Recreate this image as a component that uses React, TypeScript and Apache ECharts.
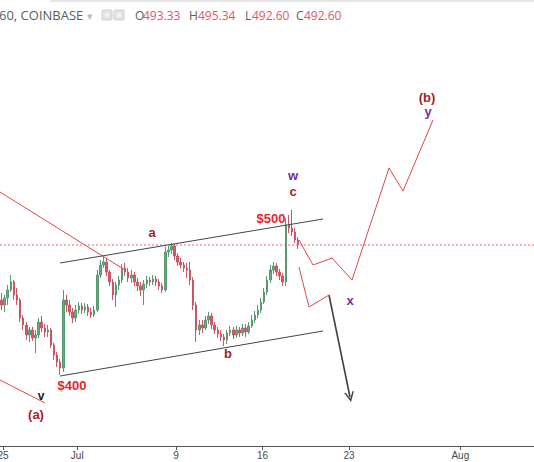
import React, { useEffect, useRef } from 'react';
import * as echarts from 'echarts';

// x axis in days counted from Jun 25 (00:00)
const tickDays = [0, 6, 14, 21, 28, 37];
const tickLabels = ['25', 'Jul', '9', '16', '23', 'Aug'];

// 6-hour candles, first one centred on Jun 24 21:00
const firstCandleDay = -0.125;
const candleStepDays = 0.25;

const opens = [
  465.1, 462.6, 466.1, 470.1, 474.1, 467.6, 465.1, 456.1, 452.6, 447.6,
  450.1, 446.1, 447.6, 454.1, 451.1, 449.1, 450.1, 442.6, 437.6, 434.1,
  431.1, 465.1, 462.6, 459.1, 456.1, 460.1, 462.1, 460.1, 461.6, 459.1,
  457.6, 460.1, 477.6, 482.6, 484.1, 479.1, 474.1, 467.6, 472.6, 475.1,
  481.1, 479.1, 476.1, 477.6, 474.1, 472.1, 470.1, 473.1, 475.1, 474.1,
  475.6, 474.1, 472.1, 470.1, 489.1, 490.1, 492.1, 487.1, 484.1, 482.6,
  481.1, 480.1, 475.1, 462.6, 450.1, 452.6, 451.1, 455.1, 457.1, 452.6,
  450.1, 448.1, 446.6, 445.1, 448.6, 450.1, 447.6, 450.1, 448.6, 451.1,
  449.1, 452.1, 455.1, 457.6, 460.1, 464.1, 469.1, 475.1, 480.1, 482.1,
  479.1, 477.1, 474.1, 502.6, 501.1, 499.1, 495.1,
];
const closes = [
  462.6, 466.1, 470.1, 474.1, 467.6, 465.1, 456.1, 452.6, 447.6, 450.1,
  446.1, 447.6, 454.1, 451.1, 449.1, 450.1, 442.6, 437.6, 434.1, 431.1,
  465.1, 462.6, 459.1, 456.1, 460.1, 462.1, 460.1, 461.6, 459.1, 457.6,
  460.1, 477.6, 482.6, 484.1, 479.1, 474.1, 467.6, 472.6, 475.1, 481.1,
  479.1, 476.1, 477.6, 474.1, 472.1, 470.1, 473.1, 475.1, 474.1, 475.6,
  474.1, 472.1, 470.1, 489.1, 490.1, 492.1, 487.1, 484.1, 482.6, 481.1,
  480.1, 475.1, 462.6, 450.1, 452.6, 451.1, 455.1, 457.1, 452.6, 450.1,
  448.1, 446.6, 445.1, 448.6, 450.1, 447.6, 450.1, 448.6, 451.1, 449.1,
  452.1, 455.1, 457.6, 460.1, 464.1, 469.1, 475.1, 480.1, 482.1, 479.1,
  477.1, 474.1, 502.6, 501.1, 499.1, 495.1, 492.6,
];
const lows = [
  460.1, 459.1, 462.6, 469.1, 465.1, 462.6, 454.1, 450.1, 445.1, 444.1,
  444.6, 438.6, 446.1, 449.1, 446.6, 446.6, 441.1, 435.1, 431.6, 427.6,
  429.1, 459.1, 457.1, 453.6, 454.1, 458.1, 458.1, 458.6, 457.1, 456.1,
  456.6, 459.1, 476.1, 481.1, 477.1, 472.1, 465.1, 461.6, 470.1, 473.6,
  477.1, 474.1, 473.6, 472.1, 469.6, 467.1, 462.6, 471.1, 472.1, 472.6,
  472.1, 470.1, 468.6, 469.1, 486.6, 488.1, 485.1, 482.1, 481.1, 479.1,
  476.1, 472.6, 460.1, 444.1, 447.6, 448.6, 450.1, 453.1, 450.6, 448.1,
  446.1, 444.6, 442.1, 443.1, 447.1, 445.6, 446.1, 446.6, 447.1, 446.6,
  448.1, 451.1, 453.6, 456.1, 458.6, 463.1, 467.6, 473.6, 478.1, 477.1,
  475.1, 472.1, 472.1, 498.6, 497.1, 493.6, 490.6,
];
const highs = [
  468.6, 467.6, 472.6, 477.6, 475.1, 471.1, 466.1, 457.6, 454.1, 451.6,
  451.6, 450.1, 456.1, 457.1, 453.1, 452.6, 451.1, 443.6, 439.1, 435.6,
  470.1, 467.6, 465.1, 461.1, 462.6, 464.1, 463.6, 463.6, 463.1, 461.1,
  462.1, 480.1, 485.1, 486.6, 486.1, 480.1, 475.6, 474.1, 477.1, 483.1,
  483.6, 481.1, 480.1, 479.1, 476.1, 474.1, 475.1, 477.1, 476.6, 477.6,
  477.1, 475.6, 473.6, 491.6, 492.1, 493.6, 493.1, 488.6, 486.1, 484.1,
  483.6, 484.1, 476.6, 464.1, 455.1, 455.1, 457.1, 459.1, 458.6, 454.1,
  451.6, 450.1, 448.1, 450.1, 452.1, 451.6, 452.1, 451.6, 453.1, 453.1,
  454.1, 457.6, 459.6, 462.6, 466.1, 471.1, 477.1, 482.6, 484.1, 483.6,
  480.6, 478.6, 506.1, 507.6, 510.1, 501.1, 496.6,
];

const lastPrice = 492.6;
const axisMinDay = -0.25;
const axisMaxDay = 42.96;

// drawn annotations: [day, price]
const resistanceLine = [[-0.25, 519.1], [9.865, 480.1]];
const waveALine = [[-0.25, 425.1], [3.391, 413.6]];
const channelUpper = [[4.605, 483.6], [25.887, 505.6]];
const channelLower = [[4.605, 427.1], [25.887, 449.6]];
const bullishPath = [
  [23.945, 495.1], [25.078, 482.6], [26.615, 486.1], [28.234, 475.1],
  [31.228, 531.1], [32.361, 519.6], [34.788, 555.1],
];
const bearishPath = [[23.945, 481.6], [24.754, 461.6], [26.372, 467.6]];
const bearishArrow = [[26.372, 467.6], [28.072, 416.6]];

const header = {
  symbol: '60, COINBASE',
  open: '493.33',
  high: '495.34',
  low: '492.60',
  close: '492.60',
};

const RED = '#e04848';
const DARK_RED = '#a51d24';
const BRIGHT_RED = '#e5262b';
const PURPLE = '#7030a0';
const HEAD_GRAY = '#5d5d5d';
const HEAD_VAL = '#e0566a';

function lineSeries(data: number[][], color: string, width = 1, type: any = 'solid') {
  return {
    type: 'line',
    data,
    symbol: 'none',
    silent: true,
    clip: true,
    lineStyle: { color, width, type },
    z: 5,
  };
}

function txt(text: string, x: number, y: number, fill: string, size: number, bold = true, align = 'center') {
  return {
    type: 'text',
    x,
    y,
    z: 20,
    style: {
      text,
      fill,
      align,
      verticalAlign: 'middle',
      font: `${bold ? 'bold ' : ''}${size}px "Liberation Sans", Arial, sans-serif`,
    },
  };
}

function headTxt(text: string, x: number, fill: string, size = 12) {
  return {
    type: 'text',
    x,
    y: 15,
    z: 20,
    style: {
      text,
      fill,
      align: 'left',
      verticalAlign: 'middle',
      font: `${size}px "Open Sans", sans-serif`,
    },
  };
}

export default function App() {
  const ref = useRef<HTMLDivElement>(null);

  useEffect(() => {
    if (!ref.current) return;
    const chart = echarts.init(ref.current, null, { renderer: 'svg' });

    const candles = opens.map((o, i) => [
      firstCandleDay + i * candleStepDays,
      o,
      closes[i],
      lows[i],
      highs[i],
    ]);

    const option: any = {
      animation: false,
      backgroundColor: '#ffffff',
      grid: {
        left: 0,
        right: 0,
        top: 0,
        bottom: 16,
        containLabel: false,
        outerBoundsMode: 'none',
      },
      xAxis: {
        type: 'value',
        min: axisMinDay,
        max: axisMaxDay,
        splitLine: { show: false },
        axisLine: { show: true, lineStyle: { color: '#555', width: 1 } },
        axisTick: {
          show: true,
          length: 4,
          customValues: tickDays,
          lineStyle: { color: '#555' },
        },
        axisLabel: {
          show: true,
          customValues: tickDays,
          margin: 4,
          hideOverlap: false,
          color: '#4a4a4a',
          fontSize: 10,
          fontFamily: '"Liberation Sans", Arial, sans-serif',
          formatter: (v: number) => {
            const k = tickDays.indexOf(Math.round(v));
            return k >= 0 ? tickLabels[k] : '';
          },
        },
      },
      yAxis: {
        type: 'value',
        min: 392.1,
        max: 615.1,
        show: false,
        splitLine: { show: false },
      },
      series: [
        {
          type: 'candlestick',
          data: candles,
          encode: { x: 0, y: [1, 2, 3, 4] },
          barWidth: 2,
          silent: true,
          clip: true,
          itemStyle: {
            color: '#6ba583',
            color0: '#d65a66',
            borderColor: '#5a9872',
            borderColor0: '#cc5561',
            borderWidth: 1,
          },
          z: 3,
        },
        lineSeries([[axisMinDay, lastPrice], [axisMaxDay, lastPrice]], '#e06a6a', 1, [2, 2]),
        lineSeries(resistanceLine, RED),
        lineSeries(waveALine, RED),
        lineSeries(channelUpper, '#444444'),
        lineSeries(channelLower, '#444444'),
        lineSeries(bullishPath, RED),
        {
          ...lineSeries(bearishPath, RED),
          markLine: {
            silent: true,
            symbol: ['none', 'path://M0,10 L5,0 L10,10 L8.4,10 L5,3.2 L1.6,10 Z'],
            symbolSize: [10, 10],
            label: { show: false },
            lineStyle: { type: 'solid', color: '#404040', width: 1.6 },
            data: [[{ coord: bearishArrow[0] }, { coord: bearishArrow[1] }]],
          },
        },
      ],
      graphic: [
        { type: 'rect', shape: { x: 50, y: 0, width: 484, height: 2 }, style: { fill: '#e6e6e6' }, z: 20 },
        headTxt(header.symbol, -1, HEAD_GRAY, 13),
        headTxt('▾', 87, '#bdbdbd', 11),
        { type: 'rect', shape: { x: 102, y: 10, width: 10, height: 10, r: 1 }, style: { fill: '#e4e4e4', stroke: '#d0d0d0', lineWidth: 1 }, z: 20 },
        { type: 'circle', shape: { cx: 107, cy: 15, r: 2 }, style: { fill: '#f4f4f4' }, z: 21 },
        { type: 'rect', shape: { x: 114, y: 10, width: 10, height: 10, r: 1 }, style: { fill: '#e4e4e4', stroke: '#d0d0d0', lineWidth: 1 }, z: 20 },
        { type: 'rect', shape: { x: 117, y: 13, width: 4, height: 4 }, style: { fill: '#f4f4f4' }, z: 21 },
        headTxt('O', 135, HEAD_GRAY),
        headTxt(header.open, 143, HEAD_VAL),
        headTxt('H', 189, HEAD_GRAY),
        headTxt(header.high, 198, HEAD_VAL),
        headTxt('L', 245, HEAD_GRAY),
        headTxt(header.low, 252, HEAD_VAL),
        headTxt('C', 296, HEAD_GRAY),
        headTxt(header.close, 304, HEAD_VAL),
        txt('a', 152, 232, DARK_RED, 13),
        txt('b', 228, 353, DARK_RED, 13),
        txt('$400', 72, 385, BRIGHT_RED, 13),
        txt('$500', 271, 218, BRIGHT_RED, 13),
        txt('w', 293, 175, PURPLE, 13),
        txt('c', 293, 191, DARK_RED, 13),
        txt('x', 350, 300, PURPLE, 13),
        txt('(b)', 427, 97, DARK_RED, 13),
        txt('y', 428, 111, PURPLE, 13),
        txt('v', 41, 396, '#222222', 12),
        txt('(a)', 36, 414, DARK_RED, 13),
      ],
    };

    chart.setOption(option);
    return () => chart.dispose();
  }, []);

  return (
    <div
      ref={ref}
      style={{ position: 'absolute', left: 0, top: 0, width: 534, height: 462 }}
    />
  );
}
